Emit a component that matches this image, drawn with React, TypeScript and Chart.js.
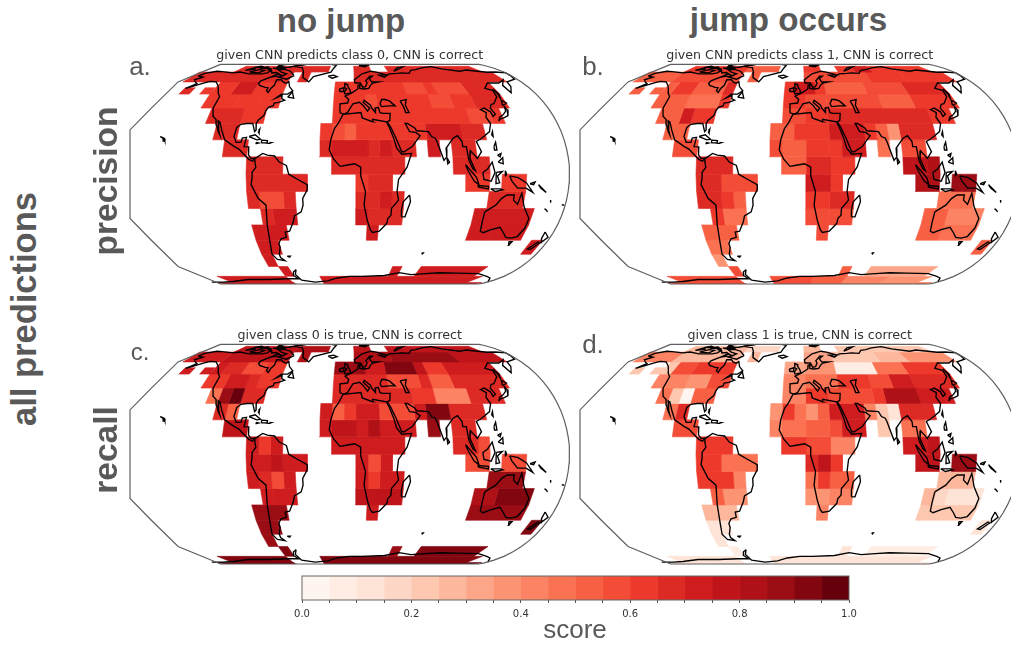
import React, { useEffect, useRef } from "react";
import { Chart, registerables } from "chart.js";

Chart.register(...registerables);

// Each row: south latitude, north latitude, then triples (west lon, east lon, score).
const precisionNoJump: number[][] = [
  [70, 78, -135, -65, .67, -65, -25, .66, 5, 25, .67, 45, 155, .67],
  [60, 70, -175, -65, .67, -55, -45, .67, 5, 165, .66],
  [50, 55, -165, -155, .66, -145, -135, .64],
  [50, 60, -135, -115, .64, -115, -95, .72, -95, -65, .62, -15, 55, .62, 55, 75, .55, 75, 85, .62, 85, 115, .55, 115, 145, .66],
  [40, 50, -135, -105, .6, -105, -85, .62, -85, -65, .6, -15, 15, .62, 15, 25, .58, 25, 75, .62, 75, 95, .56, 95, 115, .62, 115, 145, .66],
  [30, 40, -125, -95, .65, -95, -75, .6, -15, 105, .62, 105, 125, .57, 125, 135, .62],
  [20, 30, -115, -95, .67, -25, -15, .62, -15, -5, .58, -5, 5, .53, 5, 65, .6, 65, 95, .72, 95, 115, .68],
  [10, 20, -105, -85, .68, -25, -15, .68, -15, 15, .72, 15, 25, .68, 25, 35, .72, 35, 55, .66, 65, 75, .72, 85, 105, .68],
  [0, 10, -85, -55, .66, -15, 45, .66, 85, 115, .68],
  [-10, 0, -85, -35, .67, 5, 15, .6, 15, 35, .66, 95, 115, .64, 125, 145, .6],
  [-20, -10, -85, -75, .65, -75, -55, .59, -55, -45, .66, 5, 25, .67, 25, 35, .72, 35, 45, .68, 115, 145, .68],
  [-30, -20, -75, -65, .68, -65, -45, .72, 5, 15, .7, 15, 45, .68, 105, 155, .72],
  [-40, -30, -85, -55, .72, 15, 25, .7, 105, 125, .74, 125, 155, .72],
  [-50, -40, -85, -65, .72, 165, 175, .72],
  [-60, -50, -85, -75, .72],
  [-70, -60, -75, -65, .72, 45, 55, .7, 75, 145, .72],
  [-80, -70, -155, -75, .74, -35, 155, .74],
  [-85, -79, -175, -75, .75, -35, 175, .75],
];

const precisionJump: number[][] = [
  [70, 78, -135, -65, .6, -65, -25, .52, 5, 25, .6, 45, 65, .6, 65, 85, .7, 85, 155, .6],
  [60, 70, -175, -135, .52, -135, -65, .55, -55, -45, .5, 5, 75, .57, 75, 115, .6, 115, 165, .62],
  [50, 55, -165, -155, .5, -145, -135, .5],
  [50, 60, -135, -125, .5, -125, -105, .62, -105, -75, .53, -75, -65, .65, -15, -5, .62, -5, 15, .72, 15, 25, .6, 25, 65, .5, 65, 105, .58, 105, 145, .65],
  [40, 50, -135, -105, .5, -105, -75, .48, -75, -65, .6, -15, 5, .62, 5, 25, .58, 25, 75, .55, 75, 105, .5, 105, 145, .62],
  [30, 40, -125, -105, .5, -105, -95, .7, -95, -75, .62, -15, 5, .55, 5, 25, .62, 25, 115, .68, 115, 135, .63],
  [20, 30, -115, -95, .5, -25, -5, .52, -5, 25, .62, 25, 55, .72, 55, 65, .6, 65, 75, .5, 75, 85, .38, 85, 115, .65],
  [10, 20, -105, -85, .55, -25, -15, .58, -15, 5, .52, 5, 25, .6, 25, 35, .62, 35, 55, .72, 65, 75, .45, 85, 105, .58],
  [0, 10, -85, -75, .65, -75, -55, .68, -15, 5, .52, 5, 25, .68, 25, 45, .6, 85, 105, .75, 105, 115, .8],
  [-10, 0, -85, -65, .66, -65, -35, .55, 5, 25, .7, 25, 35, .6, 95, 115, .8, 125, 145, .85],
  [-20, -10, -85, -65, .66, -65, -55, .62, -55, -45, .52, 5, 25, .6, 25, 45, .68, 115, 145, .45],
  [-30, -20, -75, -65, .6, -65, -45, .45, 5, 25, .58, 25, 45, .55, 105, 125, .5, 125, 155, .42],
  [-40, -30, -85, -55, .5, 15, 25, .55, 105, 125, .5, 125, 155, .45],
  [-50, -40, -85, -65, .45, 165, 175, .5],
  [-60, -50, -85, -75, .35],
  [-70, -60, -75, -65, .55, 45, 55, .5, 75, 145, .3],
  [-80, -70, -155, -75, .55, -35, 15, .55, 15, 55, .5, 55, 105, .42, 105, 155, .35],
  [-85, -79, -175, -75, .58, -35, 15, .55, 15, 175, .45],
];

const recallNoJump: number[][] = [
  [70, 78, -135, -65, .78, -65, -25, .82, 5, 25, .78, 45, 155, .78],
  [60, 70, -175, -135, .72, -135, -65, .78, -55, -45, .82, 5, 45, .8, 45, 115, .85, 115, 165, .75],
  [50, 55, -165, -155, .72, -145, -135, .7],
  [50, 60, -135, -125, .7, -125, -105, .68, -105, -85, .58, -85, -65, .62, -15, 15, .88, 15, 35, .72, 35, 65, .9, 65, 75, .78, 75, 95, .6, 95, 145, .7],
  [40, 50, -135, -115, .62, -115, -95, .7, -95, -85, .65, -85, -65, .62, -15, 5, .68, 5, 35, .65, 35, 65, .55, 65, 75, .65, 75, 95, .5, 95, 145, .68],
  [30, 40, -125, -115, .45, -115, -105, .85, -105, -95, .95, -95, -75, .68, -15, 5, .68, 5, 55, .65, 55, 75, .62, 75, 105, .42, 105, 135, .68],
  [20, 30, -115, -105, .66, -105, -95, .52, -25, -15, .7, -15, -5, .52, -5, 5, .6, 5, 25, .7, 25, 55, .57, 55, 65, .7, 65, 85, .9, 85, 115, .66],
  [10, 20, -105, -85, .75, -25, -15, .72, -15, 5, .75, 5, 15, .72, 15, 25, .8, 25, 55, .7, 65, 75, .88, 85, 105, .66],
  [0, 10, -85, -75, .72, -75, -65, .62, -65, -55, .72, -15, 45, .73, 85, 105, .68, 105, 115, .58],
  [-10, 0, -85, -65, .72, -65, -55, .76, -55, -35, .7, 5, 15, .73, 15, 25, .58, 25, 35, .7, 95, 115, .56, 125, 145, .56],
  [-20, -10, -85, -75, .7, -75, -65, .65, -65, -55, .57, -55, -45, .72, 5, 15, .74, 15, 25, .6, 25, 45, .73, 115, 145, .88],
  [-30, -20, -75, -65, .72, -65, -45, .73, 5, 45, .78, 105, 125, .83, 125, 155, .9],
  [-40, -30, -85, -55, .87, 15, 25, .72, 105, 155, .88],
  [-50, -40, -85, -65, .88, 165, 175, .9],
  [-60, -50, -85, -75, .88],
  [-70, -60, -75, -65, .92, 45, 55, .88, 75, 145, .9],
  [-80, -70, -155, -75, .92, -35, 155, .92],
  [-85, -79, -175, -75, .97, -35, 175, .97],
];

const recallJump: number[][] = [
  [70, 78, -135, -65, .25, -65, -25, .15, 5, 25, .25, 45, 155, .2],
  [60, 70, -175, -135, .4, -135, -65, .28, -55, -45, .25, 5, 35, .3, 35, 85, .22, 85, 115, .25, 115, 165, .35],
  [50, 55, -165, -155, .22, -145, -135, .22],
  [50, 60, -135, -125, .22, -125, -105, .55, -105, -65, .6, -15, 5, .32, 5, 35, .38, 35, 75, .08, 75, 105, .45, 105, 145, .6],
  [40, 50, -135, -105, .4, -105, -85, .38, -85, -65, .55, -15, 5, .4, 5, 35, .48, 35, 65, .6, 65, 85, .55, 85, 105, .72, 105, 145, .65],
  [30, 40, -125, -115, .45, -115, -105, .2, -105, -95, .03, -95, -75, .5, -15, 5, .4, 5, 25, .62, 25, 65, .55, 65, 75, .62, 75, 105, .8, 105, 135, .7],
  [20, 30, -115, -105, .45, -105, -95, .68, -25, -15, .35, -15, -5, .62, -5, 5, .45, 5, 15, .38, 15, 25, .5, 25, 55, .73, 55, 65, .4, 65, 75, .2, 75, 85, .1, 85, 115, .65],
  [10, 20, -105, -85, .58, -25, -15, .42, -15, 5, .45, 5, 25, .52, 25, 35, .55, 35, 55, .72, 65, 75, .2, 85, 105, .48],
  [0, 10, -85, -55, .62, -15, 5, .6, 5, 15, .57, 15, 25, .55, 25, 45, .42, 85, 105, .7, 105, 115, .78],
  [-10, 0, -85, -65, .62, -65, -35, .45, 5, 15, .65, 15, 25, .78, 25, 35, .62, 95, 115, .75, 125, 145, .85],
  [-20, -10, -85, -55, .62, -55, -45, .4, 5, 15, .45, 15, 25, .6, 25, 45, .5, 115, 145, .25],
  [-30, -20, -75, -65, .52, -65, -45, .35, 5, 25, .35, 25, 45, .42, 105, 115, .25, 115, 125, .18, 125, 155, .12],
  [-40, -30, -85, -55, .25, 15, 25, .4, 105, 155, .22],
  [-50, -40, -85, -65, .12, 165, 175, .1],
  [-60, -50, -85, -75, .1],
  [-70, -60, -75, -65, .08, 45, 55, .1, 75, 145, .08],
  [-80, -70, -155, -75, .12, -35, 155, .12],
  [-85, -79, -175, -75, .1, -35, 175, .1],
];

// Coastlines as [lon, lat]
const coastlines: number[][][] = [
  [[-168, 65.5], [-166, 68.5], [-157, 71], [-150, 70.5], [-141, 69.7], [-135, 69], [-128, 70], [-115, 68], [-108, 68], [-100, 68], [-95, 69], [-94, 72], [-90, 69], [-85, 69.5], [-81, 68], [-87, 64.5], [-94, 61], [-94.5, 58.8], [-92, 57], [-85, 55.3], [-82, 55], [-82, 52.5], [-79.5, 51.3], [-79, 54.5], [-77, 57], [-78, 62], [-73, 62], [-70, 60], [-66, 58.8], [-64, 60.3], [-61, 56], [-56, 52.5], [-60, 50], [-66, 50], [-70, 47], [-65, 49], [-64, 46.5], [-61, 45.5], [-66, 44], [-70, 43.5], [-70, 41.7], [-74, 40.5], [-75.5, 38], [-76, 35], [-80, 32], [-81, 30], [-80, 26], [-81, 25], [-82.8, 28], [-84, 30], [-89, 30], [-94, 29.5], [-97, 27.5], [-97.7, 22], [-95, 18.5], [-91, 18.5], [-90.5, 21], [-87, 21.5], [-88, 16], [-84, 15.8], [-83.5, 11], [-81, 9], [-78, 9.3], [-80, 7.5], [-83, 8.5], [-86, 10.5], [-92, 14.5], [-96, 16], [-105, 20], [-109, 25.5], [-113, 31], [-114.8, 31.7], [-112, 26], [-110, 23], [-112, 25], [-115, 29], [-117, 32.5], [-120.5, 34.5], [-124, 40], [-124, 48], [-128, 51], [-133, 56], [-140, 60], [-147, 60.5], [-152, 59], [-158, 56.5], [-164, 54.5], [-158, 58.5], [-162, 60], [-166, 62], [-161, 64.5], [-168, 65.5]],
  [[-62, 66], [-68, 62.5], [-78, 64.5], [-72, 68], [-80, 70], [-88, 73.5], [-78, 73], [-70, 71], [-62, 66]],
  [[-117, 70], [-105, 69], [-102, 72], [-110, 73], [-117, 70]],
  [[-90, 76], [-78, 76.5], [-62, 82], [-80, 83], [-92, 81], [-90, 76]],
  [[-125, 72], [-116, 73.5], [-120, 76], [-125, 72]],
  [[-96, 75], [-80, 75], [-85, 73.5], [-96, 75]],
  [[-112, 75], [-100, 75], [-105, 77], [-112, 75]],
  [[-100, 73], [-95, 72], [-97, 74], [-100, 73]],
  [[-95, 80], [-88, 78], [-92, 76.5], [-95, 80]],
  [[-120, 76], [-108, 76], [-115, 78], [-120, 76]],
  [[-82, 68], [-75, 66], [-85, 65], [-82, 68]],
  [[-59, 47.7], [-53, 47], [-56, 51.5], [-59, 47.7]],
  [[-73, 78], [-60, 76], [-54, 70], [-51, 64], [-43, 60], [-40, 65], [-22, 70], [-20, 75], [-18, 80], [-30, 83.5], [-60, 82], [-73, 78]],
  [[-24, 65.5], [-18, 66.5], [-14, 65], [-19, 63.5], [-24, 65.5]],
  [[-85, 22], [-80, 23], [-75, 20.3], [-78, 20], [-85, 22]],
  [[-74, 19.8], [-69, 19.5], [-69, 18.2], [-74, 18.2], [-74, 19.8]],
  [[-78.3, 18.4], [-76.3, 18.1], [-78, 17.8], [-78.3, 18.4]],
  [[-67, 18.4], [-65.6, 18.3], [-67, 18], [-67, 18.4]],
  [[-78, 25], [-77, 26.5], [-77, 24], [-78, 25]],
  [[-160, 22], [-158, 21.5], [-156, 20.8], [-155, 19.5], [-156, 19.2], [-157, 20.9], [-160, 22]],
  [[-78, 9], [-72, 12], [-68, 11], [-62, 10.5], [-58, 7], [-52, 5], [-50, 0], [-44, -2.5], [-35, -6], [-35, -9], [-39, -14], [-39, -18], [-41, -22], [-47, -24.5], [-48.5, -28], [-53, -34], [-57, -34.5], [-57, -38], [-62, -39], [-65, -42], [-65, -45], [-68, -50], [-68, -52.5], [-65, -55], [-72, -54], [-75, -50], [-73, -42], [-71.5, -30], [-70, -18], [-76, -14], [-81, -6], [-80, -2], [-80, 1], [-77, 4], [-78, 7], [-78, 9]],
  [[-61, -51.5], [-58, -51.5], [-59, -52.2], [-61, -51.5]],
  [[-6, 35.8], [10, 37], [11, 33.5], [20, 31], [20, 32.7], [32, 31], [34, 27.5], [37, 21], [39, 15], [43, 11.5], [51, 12], [47, 4], [40, -3], [39, -10], [40.5, -15], [35, -20], [35, -24], [32.5, -26], [32, -29], [26, -34], [20, -34.8], [18, -33], [15, -27], [12, -18], [13, -10], [9, -1], [9, 4], [4, 6], [-4, 5], [-8, 4.5], [-13, 8.5], [-17, 14], [-16, 20], [-13, 27], [-10, 30], [-6, 35.8]],
  [[49.5, -12], [50.5, -16], [47, -25], [44, -25], [43.5, -21], [44.5, -16], [49.5, -12]],
  [[-9, 37], [-9, 43], [-2, 43.5], [-1, 46], [-4.5, 48.5], [2, 51], [8, 54], [8.5, 57], [10.5, 57.5], [10, 54.5], [14, 54], [19, 54.5], [21, 57], [24, 59], [30, 60], [23, 60], [21, 63], [25, 65.5], [22, 65.5], [17, 61], [18, 59], [16, 56], [13, 55.5], [11, 59], [5.5, 59], [5, 62], [14, 68], [25, 71], [31, 70], [41, 67], [33, 66.5], [38, 64.5], [45, 68], [54, 68.5], [60, 69], [68, 68.5], [73, 72], [80, 73], [90, 75.5], [105, 77.5], [113, 74], [130, 71], [140, 72.5], [160, 69.8], [170, 70], [180, 69], [179, 65.5], [177, 62.5], [165, 60], [163, 56], [157, 51], [156, 57], [164, 62], [155, 59], [143, 59], [135, 54.5], [141, 53], [140, 48], [133, 43], [130, 42.5], [127.5, 40], [129.5, 36], [126.5, 34.5], [126, 37.5], [122, 40], [118, 39], [122, 37], [120, 34], [122, 30], [119, 25], [114, 22.5], [110, 20.5], [106, 19], [109, 13], [105, 9], [103, 11], [100, 13.5], [99, 9], [103, 2], [101, 3], [98, 8], [97, 16], [94, 16], [94, 19], [91, 22.5], [87, 21], [80, 15], [80, 10], [77.5, 8], [73, 19], [72, 21], [69, 22], [67, 25], [57, 25.5], [56, 27], [50, 30], [48, 30], [51, 25], [56, 24.5], [59.5, 22.5], [52, 16], [45, 13], [43, 13], [39, 21], [35, 28], [32.5, 31], [35, 32], [36, 36.5], [30, 36.5], [27, 37], [26, 40.5], [23, 40], [23, 37], [20, 40], [19, 42], [13.5, 45.5], [12.5, 44], [18, 40], [16, 38], [12, 42], [9, 44], [3, 43], [0, 39.5], [-2, 37], [-5.5, 36], [-9, 37]],
  [[29, 41], [36, 41.5], [41.5, 41.5], [37, 45], [33, 46], [30, 46], [28, 43], [29, 41]],
  [[47, 45], [53, 46], [51, 42], [53, 37], [50, 37], [49, 41], [47, 45]],
  [[-5, 50], [1, 51], [0, 53.5], [-2, 56], [-2, 57.5], [-5, 58.5], [-5, 55], [-3, 54], [-5, 52], [-5, 50]],
  [[-10, 52], [-6, 52], [-6, 55], [-10, 54], [-10, 52]],
  [[12, 79], [25, 80], [20, 77], [12, 79]],
  [[52, 71], [60, 76], [68, 77], [58, 73], [52, 71]],
  [[142, 46], [143, 50], [142.5, 54], [144, 50], [142, 46]],
  [[130, 31.5], [132, 34], [136, 35.5], [140, 38], [141, 41], [142, 39], [140, 35], [136, 33.7], [132, 33], [130, 31.5]],
  [[140, 42], [142, 45.5], [145, 43.5], [141, 42], [140, 42]],
  [[120, 23], [121.5, 25], [121, 22], [120, 23]],
  [[120, 16], [122, 18.5], [122, 14], [120, 14], [120, 16]],
  [[122, 7], [126, 9.5], [126, 6], [122, 7]],
  [[122, 11], [125, 12], [124, 10], [122, 11]],
  [[95, 5.5], [104, -2], [106, -6], [102, -4], [97, 2], [95, 5.5]],
  [[105, -6.5], [114, -7], [114, -8.5], [106, -7.5], [105, -6.5]],
  [[109, 1], [113, 3], [117, 7], [119, 1], [116, -4], [110, -3], [109, 1]],
  [[120, 1], [125, 1.5], [121, -1], [123, -5], [120, -5.5], [120, 1]],
  [[116, -8.5], [124, -8.5], [126, -9], [120, -10], [116, -8.5]],
  [[127.5, 2], [128.5, 0], [127.5, -1], [127.5, 2]],
  [[131, -1], [138, -2], [145, -5], [151, -10.5], [145, -8], [138, -8], [133, -4], [131, -1]],
  [[148, -5.5], [152, -4.5], [151, -6], [148, -5.5]],
  [[155, -6], [158, -8], [162, -10.5], [157, -8], [155, -6]],
  [[166.7, -15], [167.5, -16.5], [167, -15.5], [166.7, -15]],
  [[164, -20], [167, -22], [164.5, -20.5], [164, -20]],
  [[177.5, -17.5], [178.5, -18], [177.5, -18], [177.5, -17.5]],
  [[114, -22], [122, -18], [126, -14], [130, -12], [136, -12], [136, -15], [140, -17.5], [142, -11], [146, -19], [153, -26], [153, -32], [150, -37.5], [145, -38.5], [140, -38], [136, -35], [131, -31.5], [124, -33], [118, -35], [115, -34], [114, -28], [114, -22]],
  [[145, -41], [148, -41], [147, -43.5], [145, -41]],
  [[172.5, -34.5], [178, -38], [175, -41.5], [173, -39], [172.5, -34.5]],
  [[172, -41], [174, -42], [170, -46.5], [167, -46], [172, -41]],
  [[80, 9.5], [82, 7], [80.5, 6], [80, 9.5]],
  [[69, -49], [70.5, -49], [70, -49.7], [69, -49]],
  [[-58, -63], [-62, -65], [-65, -69], [-62, -73], [-75, -73], [-100, -74], [-125, -74], [-150, -77], [-165, -78], [-180, -78]],
  [[180, -78], [168, -72], [160, -70], [145, -67], [120, -66.5], [100, -66], [85, -67], [70, -68], [55, -66], [40, -69], [15, -70], [0, -70], [-15, -72], [-28, -76], [-45, -78], [-60, -75], [-62, -68], [-58, -63]],
];

const panelTitles = [
  "given CNN predicts class 0, CNN is correct",
  "given CNN predicts class 1, CNN is correct",
  "given class 0 is true, CNN is correct",
  "given class 1 is true, CNN is correct",
];
const panelRows = [precisionNoJump, precisionJump, recallNoJump, recallJump];
const panelLeft = [125, 575, 125, 575];
const panelTop = [48, 48, 328, 328];

const colorBinEdges = Array.from({ length: 21 }, (_, i) => i * 0.05);
const colorTickLabels = ["0.0", "0.2", "0.4", "0.6", "0.8", "1.0"];

const redsStops = ["#fff5f0", "#fee0d2", "#fcbba1", "#fc9272", "#fb6a4a", "#ef3b2c", "#cb181d", "#a50f15", "#67000d"];
const FRAME_SIN = 0.984;

function hexRgb(h: string) {
  return [1, 3, 5].map((i) => parseInt(h.slice(i, i + 2), 16));
}
function reds(t: number) {
  const p = t * (redsStops.length - 1);
  const i = Math.min(redsStops.length - 2, Math.floor(p));
  const a = hexRgb(redsStops[i]);
  const b = hexRgb(redsStops[i + 1]);
  const f = p - i;
  return `rgb(${a.map((v, k) => Math.round(v + (b[k] - v) * f)).join(",")})`;
}
function scoreColor(s: number) {
  const bin = Math.min(19, Math.floor(s * 20));
  return reds(bin / 19);
}

// Eckert IV projection; returns x in equatorial degrees and y as sin(theta).
function project(lon: number, lat: number) {
  const target = (2 + Math.PI / 2) * Math.sin((lat * Math.PI) / 180);
  let th = (lat * Math.PI) / 360;
  for (let k = 0; k < 12; k++) {
    const f = th + Math.sin(th) * Math.cos(th) + 2 * Math.sin(th) - target;
    const d = 1 + Math.cos(2 * th) + 2 * Math.cos(th);
    if (Math.abs(d) < 1e-6) break;
    th -= f / d;
  }
  return { x: (lon * (1 + Math.cos(th))) / 2, y: Math.sin(th) };
}

function spanPolygon(s: number, n: number, w: number, e: number) {
  return [project(w, n), project(e, n), project(e, s), project(w, s), project(w, n)];
}

function framePoints() {
  const topLeft = { x: -105.8, y: FRAME_SIN };
  const topRight = { x: 105.8, y: FRAME_SIN };
  const side = project(-180, 26).y;
  const pts = [topLeft, project(-180, 60), project(-180, 40), { x: -180, y: side }, { x: -180, y: -side }, project(-180, -40), project(-180, -60), { x: -105.8, y: -FRAME_SIN }, { x: 105.8, y: -FRAME_SIN }];
  for (let lat = -80; lat <= 80; lat += 5) pts.push(project(180, lat));
  pts.push(topRight, topLeft);
  return pts;
}

function mapDatasets(rows: number[][]) {
  const ds: any[] = [];
  ds.push({ data: framePoints(), showLine: true, pointRadius: 0, borderColor: "#5f5f5f", borderWidth: 1.2, fill: false, clip: false });
  coastlines.forEach((line) => {
    ds.push({ data: line.map(([lo, la]) => project(lo, la)), showLine: true, pointRadius: 0, borderColor: "#000000", borderWidth: 1.35, fill: false });
  });
  rows.forEach((row) => {
    const [s, n] = row;
    for (let i = 2; i < row.length; i += 3) {
      const c = scoreColor(row[i + 2]);
      ds.push({ data: spanPolygon(s, n, row[i], row[i + 1]), showLine: true, pointRadius: 0, borderColor: c, borderWidth: 0.6, backgroundColor: c, fill: "shape" });
    }
  });
  return ds;
}

function MapPanel({ index }: { index: number }) {
  const ref = useRef<HTMLCanvasElement>(null);
  useEffect(() => {
    const chart = new Chart(ref.current!, {
      type: "scatter",
      data: { datasets: mapDatasets(panelRows[index]) },
      options: {
        animation: false,
        responsive: false,
        events: [],
        layout: { padding: { left: 5, right: 5.5, top: 0, bottom: 6 } },
        plugins: {
          legend: { display: false },
          tooltip: { enabled: false },
          title: {
            display: true,
            text: panelTitles[index],
            color: "#333333",
            font: { family: "DejaVu Sans", size: 12.65, weight: "normal" },
            padding: { top: 0, bottom: 1.2 },
          },
        },
        scales: {
          x: { type: "linear", display: false, min: -180, max: 180 },
          y: { type: "linear", display: false, min: -FRAME_SIN, max: FRAME_SIN },
        },
      },
    } as any);
    return () => chart.destroy();
  }, [index]);
  return (
    <canvas
      ref={ref}
      width={450}
      height={242}
      style={{ position: "absolute", left: panelLeft[index], top: panelTop[index], filter: "blur(0.4px)" }}
    />
  );
}

function ColorBar() {
  const ref = useRef<HTMLCanvasElement>(null);
  useEffect(() => {
    const frame = {
      id: "frame",
      afterDraw(c: any) {
        const { left, top, width, height } = c.chartArea;
        c.ctx.save();
        c.ctx.strokeStyle = "#666666";
        c.ctx.lineWidth = 1;
        c.ctx.strokeRect(left, top, width, height);
        c.ctx.restore();
      },
    };
    const chart = new Chart(ref.current!, {
      type: "bar",
      data: {
        labels: ["score"],
        datasets: colorBinEdges.slice(0, 20).map((e, i) => ({
          label: e.toFixed(2),
          data: [colorBinEdges[i + 1] - e],
          backgroundColor: reds(i / 19),
          barPercentage: 1,
          categoryPercentage: 1,
          stack: "bar",
        })),
      },
      options: {
        indexAxis: "y",
        animation: false,
        responsive: false,
        events: [],
        layout: { padding: { left: 17, right: 16, top: 6, bottom: 0 } },
        plugins: { legend: { display: false }, tooltip: { enabled: false } },
        scales: {
          y: { display: false, stacked: true },
          x: {
            type: "linear",
            stacked: true,
            min: 0,
            max: 1,
            afterFit: (s: any) => {
              s.height = 24;
            },
            grid: { drawOnChartArea: false, drawTicks: true, tickLength: 3, color: "#555555" },
            border: { display: false },
            ticks: {
              stepSize: 0.05,
              autoSkip: false,
              maxRotation: 0,
              padding: 5,
              color: "#333333",
              font: { family: "DejaVu Sans", size: 10 },
              callback: (_: any, i: number) => (i % 4 === 0 ? colorTickLabels[i / 4] : ""),
            },
          },
        },
      },
      plugins: [frame],
    } as any);
    return () => chart.destroy();
  }, []);
  return <canvas ref={ref} width={580} height={54} style={{ position: "absolute", left: 285, top: 570, filter: "blur(0.3px)" }} />;
}

const bold: React.CSSProperties = { position: "absolute", fontFamily: "Liberation Sans", fontWeight: 700, color: "#595959", whiteSpace: "nowrap", lineHeight: 1 };
const plain: React.CSSProperties = { position: "absolute", fontFamily: "Liberation Sans", color: "#595959", whiteSpace: "nowrap", lineHeight: 1 };

function centered(x: number, y: number, size: number, rotate = 0): React.CSSProperties {
  return { left: x, top: y, fontSize: size, transform: `translate(-50%,-50%) rotate(${rotate}deg)` };
}

export default function App() {
  return (
    <div style={{ position: "fixed", left: 0, top: 0, width: 1011, height: 646, overflow: "hidden", background: "#fff" }}>
      {[0, 1, 2, 3].map((i) => (
        <MapPanel key={i} index={i} />
      ))}
      <ColorBar />
      <div style={{ ...bold, ...centered(341, 19.5, 33) }}>no jump</div>
      <div style={{ ...bold, ...centered(788.5, 19.5, 33.2) }}>jump occurs</div>
      <div style={{ ...bold, ...centered(105.5, 180.5, 33.5, -90) }}>precision</div>
      <div style={{ ...bold, ...centered(105.5, 450, 33.5, -90) }}>recall</div>
      <div style={{ ...bold, ...centered(24, 309, 34.5, -90) }}>all predictions</div>
      <div style={{ ...plain, ...centered(140, 66, 26) }}>a.</div>
      <div style={{ ...plain, ...centered(593, 66, 26) }}>b.</div>
      <div style={{ ...plain, ...centered(140, 352, 24) }}>c.</div>
      <div style={{ ...plain, ...centered(593, 344, 26) }}>d.</div>
      <div style={{ ...plain, ...centered(575, 629, 26) }}>score</div>
    </div>
  );
}
